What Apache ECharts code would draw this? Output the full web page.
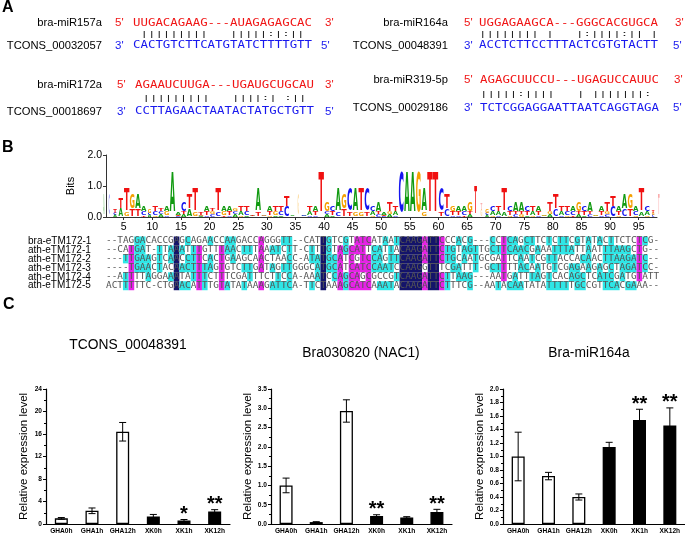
<!DOCTYPE html>
<html><head><meta charset="utf-8">
<script src="https://cdn.jsdelivr.net/npm/echarts@6/dist/echarts.min.js"></script>
<style>html,body{margin:0;padding:0;background:#fff}#c{width:685px;height:535px}</style>
</head><body><div id="c"></div>
<script>
// ---------- Panel A data ----------
const mirNames = ['bra-miR157a', 'bra-miR172a', 'bra-miR164a', 'bra-miR319-5p'];
const targetNames = ['TCONS_00032057', 'TCONS_00018697', 'TCONS_00048391', 'TCONS_00029186'];
const mirSeqs = ['UUGACAGAAG---AUAGAGAGCAC', 'AGAAUCUUGA---UGAUGCUGCAU', 'UGGAGAAGCA---GGGCACGUGCA', 'AGAGCUUCCU---UGAGUCCAUUC'];
const targetSeqs = ['CACTGTCTTCATGTATCTTTTGTT', 'CCTTAGAACTAATACTATGCTGTT', 'ACCTCTTCCTTTACTCGTGTACTT', 'TCTCGGAGGAATTAATCAGGTAGA'];
const matchLines = [' |||||||||   |||||:|:|| ', ' |||||||||   ||||:| :|| ', '|||||||| |   |:||||:|| |', '|||||:||||   | |||||||: '];

// ---------- Panel B data ----------
const alignNames = ['bra-eTM172-1', 'ath-eTM172-1', 'ath-eTM172-2', 'ath-eTM172-3', 'ath-eTM172-4', 'ath-eTM172-5'];
const alignSeqs = [
  '--TAGGACACCGAGCAGAACCAAGACCAGGGTT--CATTGTCGTATCATAATCAAGATTCCCACG---CCTCAGCTTCTCTTCGTATACTTCTCTCG-',
  '--CATGAT-TTAAATTTGTTTAACTTTAAATCTT-CTTTGTAGCATTCATTACAAGATTCTGTAGTTGCTTCAACGAAATTTATTAATTTAAGCTG--',
  '---TTGAAGTCAACCTTCACTGAAGCAACTAACC-ATATGCATCGTCCAGTTCAAGATTCTGCAATGCGATTCAATCGTTACCACAACTTAAGATC--',
  '----TGAACTACAACTTTAGTGTCTTGATAGTTGGGCATGCATCATCCAATCCAAGGTTTCGATTT-GCTTTTACAATGTCGAGAAGAGCTAGATCC-',
  '--ATTTTAGGAAATATTTCTTTCGATTTCTTCCA-AAATCCAGCAGCGCCGTCAAGATTCTTAAG---AATGATTTAGTCACAGCTCATCGATGTATT',
  'ACTTTTTC-CTGAACATTTGTATATAAAGATTCA-TTCTAAAGCATCAAATACAAGATTCTTTCG--AATACAATATATTTTTGCCGTTCACGAAA--'
];
const logoTicks = [5, 10, 15, 20, 25, 30, 35, 40, 45, 50, 55, 60, 65, 70, 75, 80, 85, 90, 95];

// ---------- Panel C data ----------
const categories = ['GHA0h', 'GHA1h', 'GHA12h', 'XK0h', 'XK1h', 'XK12h'];
const chartTitles = ['TCONS_00048391', 'Bra030820 (NAC1)', 'Bra-miR164a'];
const meansTCONS = [1.0, 2.35, 16.4, 1.35, 0.6, 2.2];
const errsTCONS = [0.15, 0.5, 1.65, 0.35, 0.2, 0.35];
const sigTCONS = ['', '', '', '', '*', '**'];
const meansNAC1 = [1.0, 0.05, 2.93, 0.21, 0.17, 0.31];
const errsNAC1 = [0.19, 0.01, 0.29, 0.03, 0.02, 0.07];
const sigNAC1 = ['', '', '', '**', '', '**'];
const meansMiR = [1.0, 0.71, 0.40, 1.14, 1.54, 1.46];
const errsMiR = [0.36, 0.055, 0.045, 0.07, 0.16, 0.26];
const sigMiR = ['', '', '', '', '**', '**'];
const yMaxes = [24, 3.5, 2.0];
const yIntervals = [4, 0.5, 0.2];

// ---------- rendering ----------
const SANS = 'Liberation Sans', MONO = 'DejaVu Sans Mono';
const RED = '#f01414', BLUE = '#1818ee';

function T(x, y, text, o) {
  o = o || {};
  return {
    type: 'text', x: x, y: y, scaleX: o.scaleX || 1, scaleY: o.scaleY || 1, silent: true,
    style: {
      text: text, x: 0, y: 0, fill: o.fill || '#000', fontSize: o.fontSize || 11,
      fontFamily: o.fontFamily || SANS, fontWeight: o.fontWeight || 'normal',
      align: o.align || 'left', verticalAlign: 'middle'
    }
  };
}

const blockPos = [
  { nameX: 102, y: [23.3, 33.6, 45.7], p1: 115, seq: 133, p2r: 325, p2b: 321 },
  { nameX: 102, y: [85, 98.3, 111.7], p1: 117, seq: 135, p2r: 325, p2b: 325 },
  { nameX: 448, y: [23.3, 33.6, 45.7], p1: 464, seq: 479, p2r: 675, p2b: 673 },
  { nameX: 448, y: [80, 94.3, 108.3], p1: 464, seq: 480, p2r: 674, p2b: 673 }
];

const graphics = [];
graphics.push(T(2, 8, 'A', { fontSize: 16, fontWeight: 'bold' }));
graphics.push(T(2, 148, 'B', { fontSize: 16, fontWeight: 'bold' }));
graphics.push(T(3, 305, 'C', { fontSize: 16, fontWeight: 'bold' }));
mirNames.forEach(function (nm, b) {
  const P = blockPos[b];
  graphics.push(T(P.nameX, P.y[0], nm, { align: 'right', fontSize: 11.2 }));
  graphics.push(T(P.nameX, P.y[2], targetNames[b], { align: 'right', fontSize: 11.2 }));
  graphics.push(T(P.p1, P.y[0], "5'", { fill: RED, fontSize: 11.5 }));
  graphics.push(T(P.seq, P.y[0], mirSeqs[b], { fill: RED, fontFamily: MONO, fontSize: 12.4, scaleY: 0.85 }));
  graphics.push(T(P.p2r, P.y[0], "3'", { fill: RED, fontSize: 11.5 }));
  graphics.push(T(P.seq, P.y[1], matchLines[b], { fill: '#222', fontFamily: MONO, fontSize: 12.4, scaleY: 0.6 }));
  graphics.push(T(P.p1, P.y[2], "3'", { fill: BLUE, fontSize: 11.5 }));
  graphics.push(T(P.seq, P.y[2], targetSeqs[b], { fill: BLUE, fontFamily: MONO, fontSize: 12.4, scaleY: 0.85 }));
  graphics.push(T(P.p2b, P.y[2], "5'", { fill: BLUE, fontSize: 11.5 }));
});
const titlePos = [[128, 345], [361, 353], [589, 353]];
chartTitles.forEach(function (t, i) {
  graphics.push(T(titlePos[i][0], titlePos[i][1], t, { align: 'center', fontSize: 13.8 }));
});

// ---- sequence logo derived from the alignment ----
const LET = ['A', 'C', 'G', 'T'];
const LCOL = { A: '#109a10', C: '#1515f0', G: '#f5a000', T: '#f01010' };
const LW = { A: 0.774, C: 0.734, G: 0.821, T: 0.682 };
const BIT_SCALE = 0.62;
const NSEQ = alignSeqs.length, NCOL = alignSeqs[0].length;
const logoData = [];
for (let k = 0; k < NCOL; k++) {
  const cnt = { A: 0, C: 0, G: 0, T: 0 }; let n = 0;
  alignSeqs.forEach(function (s) { const ch = s[k]; if (cnt[ch] !== undefined) { cnt[ch]++; n++; } });
  if (!n) continue;
  const frac = n / NSEQ;
  let H = 0;
  LET.forEach(function (l) { const p = cnt[l] / n; if (p > 0) H -= p * Math.log2(p); });
  const R = (2 - H) * BIT_SCALE * (0.4 + 0.6 * frac);
  const order = LET.filter(function (l) { return cnt[l] > 0; }).sort(function (a, b) { return cnt[a] - cnt[b]; });
  let y = 0;
  order.forEach(function (l) {
    const h = R * cnt[l] / n;
    logoData.push([k + 1.5, LET.indexOf(l), y, y + h, frac]);
    y += h;
  });
}

// ---- alignment rows as rich text ----
function cellClass(r, k) {
  const ch = alignSeqs[r][k];
  if (ch === '-') return 'n';
  let c = 0;
  alignSeqs.forEach(function (s) { if (s[k] === ch) c++; });
  if (c === NSEQ) return 'd';
  if (c >= 5) return 'm';
  if (c >= 3) return 'c';
  return 'n';
}
const richRows = alignSeqs.map(function (s, r) {
  let out = '', cur = null, buf = '';
  for (let k = 0; k < s.length; k++) {
    const c = cellClass(r, k);
    if (c !== cur && buf) { out += '{' + cur + '|' + buf + '}'; buf = ''; }
    cur = c; buf += s[k];
  }
  if (buf) out += '{' + cur + '|' + buf + '}';
  return out;
});
const AF = 9.4, ALH = 9;
const richStyles = {
  n: { fontFamily: MONO, fontSize: AF, lineHeight: ALH, color: '#555' },
  c: { fontFamily: MONO, fontSize: AF, lineHeight: ALH, color: '#444', backgroundColor: '#2ee6e6' },
  m: { fontFamily: MONO, fontSize: AF, lineHeight: ALH, color: '#333', backgroundColor: '#e622e6' },
  d: { fontFamily: MONO, fontSize: AF, lineHeight: ALH, color: '#c8c8d8', backgroundColor: '#14146a' }
};

// ---- chart panels ----
const allMeans = [meansTCONS, meansNAC1, meansMiR];
const allErrs = [errsTCONS, errsNAC1, errsMiR];
const allSig = [sigTCONS, sigNAC1, sigMiR];
const chartGrids = [
  { left: 46, width: 184, top: 389, bottom: 11 },
  { left: 271, width: 181, top: 389, bottom: 11 },
  { left: 503, width: 182, top: 389, bottom: 11 }
];

const grids = [
  { left: 106, width: 551, top: 155, height: 62 },       // logo
  { left: 106, width: 553, top: 236.5, height: 53.7 }    // alignment
].concat(chartGrids);

const xAxes = [
  {
    gridIndex: 0, type: 'value', min: 1.9, max: 98.2,
    axisLine: { lineStyle: { color: '#333', width: 1 } },
    axisTick: { show: true, customValues: logoTicks, length: 3, lineStyle: { color: '#333' } },
    axisLabel: { customValues: logoTicks, fontSize: 10.5, color: '#000', fontFamily: SANS, margin: 5 },
    splitLine: { show: false }
  },
  { gridIndex: 1, type: 'value', min: 0, max: 1, show: false }
];
const yAxes = [
  {
    gridIndex: 0, type: 'value', min: 0, max: 2, interval: 1,
    name: 'Bits', nameLocation: 'middle', nameGap: 17,
    nameTextStyle: { fontSize: 11, color: '#000', fontFamily: SANS },
    axisLine: { show: true, lineStyle: { color: '#333' } },
    axisTick: { show: true, length: 3, lineStyle: { color: '#333' } },
    axisLabel: { fontSize: 10.5, color: '#000', fontFamily: SANS, margin: 4, formatter: function (v) { return v.toFixed(1); } },
    splitLine: { show: false }
  },
  {
    gridIndex: 1, type: 'category', data: alignNames, inverse: true,
    axisLine: { show: false }, axisTick: { show: false },
    axisLabel: { interval: 0, align: 'left', margin: 78, fontSize: 10, color: '#000', fontFamily: SANS },
    splitLine: { show: false }
  }
];

const series = [
  {
    type: 'custom', xAxisIndex: 0, yAxisIndex: 0, data: logoData, encode: { x: 0, y: [2, 3] }, silent: true,
    renderItem: function (params, api) {
      const v = api.value(0), li = api.value(1), y0 = api.value(2), y1 = api.value(3), frac = api.value(4);
      const p0 = api.coord([v, y0]), p1 = api.coord([v, y1]);
      const h = p0[1] - p1[1];
      if (h < 0.35) return null;
      const cw = api.size([1, 0])[0];
      const L = LET[li], F = 20;
      const w = cw * 0.95 * (frac < 1 ? Math.max(frac, 0.3) : 1);
      return {
        type: 'text', x: p0[0], y: (p0[1] + p1[1]) / 2,
        scaleX: w / (LW[L] * F), scaleY: h / (0.729 * F),
        style: { text: L, x: 0, y: 0, fontSize: F, fontWeight: 'bold', fontFamily: 'DejaVu Sans',
          fill: LCOL[L], opacity: frac < 0.5 ? 0.35 : 1, align: 'center', verticalAlign: 'middle' }
      };
    }
  },
  {
    type: 'custom', xAxisIndex: 1, yAxisIndex: 1, silent: true,
    data: alignSeqs.map(function (s, i) { return [0, i]; }), encode: { x: 0, y: 1 },
    renderItem: function (params, api) {
      const r = params.dataIndex;
      const p = api.coord([0, r]);
      return {
        type: 'text', x: p[0], y: p[1],
        style: { text: richRows[r], rich: richStyles, fontFamily: MONO, fontSize: AF, lineHeight: ALH,
          fill: '#555', align: 'left', verticalAlign: 'middle' }
      };
    }
  }
];

chartGrids.forEach(function (g, c) {
  const gi = c + 2;
  const means = allMeans[c], errs = allErrs[c], sig = allSig[c];
  xAxes.push({
    gridIndex: gi, type: 'category', data: categories,
    axisLine: { lineStyle: { color: '#000', width: 1.2 } },
    axisTick: { show: false },
    axisLabel: { fontSize: 6.6, fontWeight: 'bold', color: '#000', fontFamily: SANS, margin: 4, interval: 0 }
  });
  yAxes.push({
    gridIndex: gi, type: 'value', min: 0, max: yMaxes[c], interval: yIntervals[c],
    name: 'Relative expression level', nameLocation: 'middle', nameGap: 16,
    nameTextStyle: { fontSize: 11.5, color: '#000', fontFamily: SANS },
    axisLine: { show: true, lineStyle: { color: '#000', width: 1.2 } },
    axisTick: { show: true, length: 3, lineStyle: { color: '#000' } },
    minorTick: { show: true, splitNumber: 2, length: 2, lineStyle: { color: '#000' } },
    axisLabel: { fontSize: 6.6, fontWeight: 'bold', color: '#000', fontFamily: SANS, margin: 4,
      formatter: function (v) { return c === 0 ? String(Math.round(v)) : v.toFixed(1); } },
    splitLine: { show: false }
  });
  series.push({
    type: 'bar', xAxisIndex: gi, yAxisIndex: gi, barWidth: 13, z: 2, silent: true,
    data: means.map(function (m, i) {
      return { value: m, itemStyle: { color: i < 3 ? '#fff' : '#000', borderColor: '#000', borderWidth: 1.3 } };
    })
  });
  series.push({
    type: 'custom', xAxisIndex: gi, yAxisIndex: gi, z: 3, silent: true,
    data: means.map(function (m, i) { return [i, m, errs[i]]; }), encode: { x: 0, y: 1 },
    renderItem: function (params, api) {
      const i = api.value(0), m = api.value(1), e = api.value(2);
      const top = api.coord([i, m + e]), bot = api.coord([i, Math.max(m - e, 0)]);
      const hw = 3.5, st = { stroke: '#000', lineWidth: 1 };
      return { type: 'group', children: [
        { type: 'line', shape: { x1: top[0], y1: top[1], x2: bot[0], y2: bot[1] }, style: st },
        { type: 'line', shape: { x1: top[0] - hw, y1: top[1], x2: top[0] + hw, y2: top[1] }, style: st },
        { type: 'line', shape: { x1: bot[0] - hw, y1: bot[1], x2: bot[0] + hw, y2: bot[1] }, style: st }
      ] };
    }
  });
  series.push({
    type: 'custom', xAxisIndex: gi, yAxisIndex: gi, z: 4, silent: true,
    data: means.map(function (m, i) { return [i, m + errs[i]]; }), encode: { x: 0, y: 1 },
    renderItem: function (params, api) {
      const s = sig[params.dataIndex];
      if (!s) return null;
      const p = api.coord([api.value(0), api.value(1)]);
      return { type: 'text', x: p[0], y: p[1] - 5,
        style: { text: s, x: 0, y: 0, fontSize: 20, fontWeight: 'bold', fontFamily: SANS, fill: '#000',
          align: 'center', verticalAlign: 'middle' } };
    }
  });
});

const chart = echarts.init(document.getElementById('c'));
chart.setOption({
  animation: false,
  backgroundColor: '#fff',
  grid: grids,
  xAxis: xAxes,
  yAxis: yAxes,
  series: series,
  graphic: graphics
});
</script>
</body></html>
